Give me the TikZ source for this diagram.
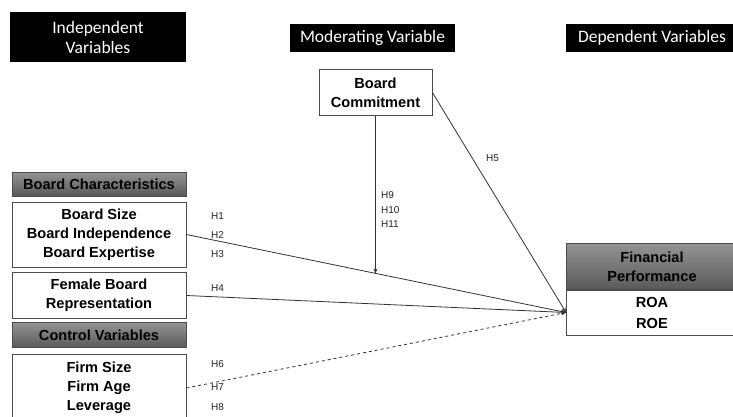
\documentclass[tikz,border=0pt]{standalone}
\usepackage{fontspec}
\setmainfont{Liberation Sans}
\newfontfamily\headfont{Carlito}
\usetikzlibrary{arrows.meta,calc}

\tikzset{
  headbox/.style={fill=black, text=white, font=\headfont\fontsize{17.5}{20}\selectfont, align=center, inner sep=0pt},
  varbox/.style={draw=black!70, line width=0.8pt, fill=white, font=\bfseries\fontsize{14.6}{19}\selectfont, align=center, inner sep=0pt},
  greybox/.style={varbox, top color=black!42, bottom color=black!65},
  hyp/.style={font=\fontsize{10}{14.5}\selectfont, text=black!85, anchor=west, inner sep=0pt, align=left},
  link/.style={draw=black!80, line width=0.8pt, -{Stealth[length=5pt,width=4pt]}},
}

\begin{document}
\begin{tikzpicture}[x=1pt, y=-1pt]
    \useasboundingbox[fill=white] (0,0) rectangle (733,416);

    % column headings
    \node[headbox, minimum width=176, minimum height=50] (indep) at (98,37) {Independent\\Variables};
    \node[headbox, minimum width=165, minimum height=28] (moder) at (372.5,38) {Moderating Variable};
    \node[headbox, minimum width=172, minimum height=28] (depen) at (652,38) {Dependent Variables};

    % moderator
    \node[varbox, minimum width=113, minimum height=46] (bc) at (375.5,92.5) {Board\\Commitment};

    % independent variables
    \node[greybox, minimum width=174, minimum height=24] (bchar) at (99,184) {Board Characteristics};
    \node[varbox, minimum width=174, minimum height=65] (size) at (99,234.5) {Board Size\\Board Independence\\Board Expertise};
    \node[varbox, minimum width=174, minimum height=46] (fem) at (99,295.5) {Female Board\\Representation};
    \node[greybox, minimum width=174, minimum height=25] (ctrl) at (99,335) {Control Variables};
    \node[varbox, minimum width=174, minimum height=68] (firm) at (99,388) {Firm Size\\Firm Age\\Leverage};

    % dependent variable
    \node[greybox, minimum width=171, minimum height=46] (fin) at (652,266.5) {Financial\\Performance};
    \node[varbox, minimum width=171, minimum height=45, font=\bfseries\fontsize{14.6}{21}\selectfont] (roa) at (652,312.5) {ROA\\ROE};

    % hypotheses
    \node[hyp] (h1) at (211,216) {H1};
    \node[hyp] (h2) at (211,235) {H2};
    \node[hyp] (h3) at (211,254) {H3};
    \node[hyp] (h4) at (211,288) {H4};
    \node[hyp] (h5) at (486,158) {H5};
    \node[hyp] (h6) at (211,364) {H6};
    \node[hyp] (h7) at (211,387) {H7};
    \node[hyp] (h8) at (211,407) {H8};
    \node[hyp] (h911) at (381,210) {H9\\H10\\H11};

    % links
    \coordinate (mod) at ($(size.east)!0.5!(roa.west)$);
    \draw[link] (size.east) -- (roa.west);
    \draw[link] (fem.east) -- (roa.west);
    \draw[link, dashed] (firm.east) -- (roa.west);
    \draw[link] (bc.east) -- (roa.west);
    \draw[link] (bc.south) -- (bc.south |- mod);
\end{tikzpicture}
\end{document}
